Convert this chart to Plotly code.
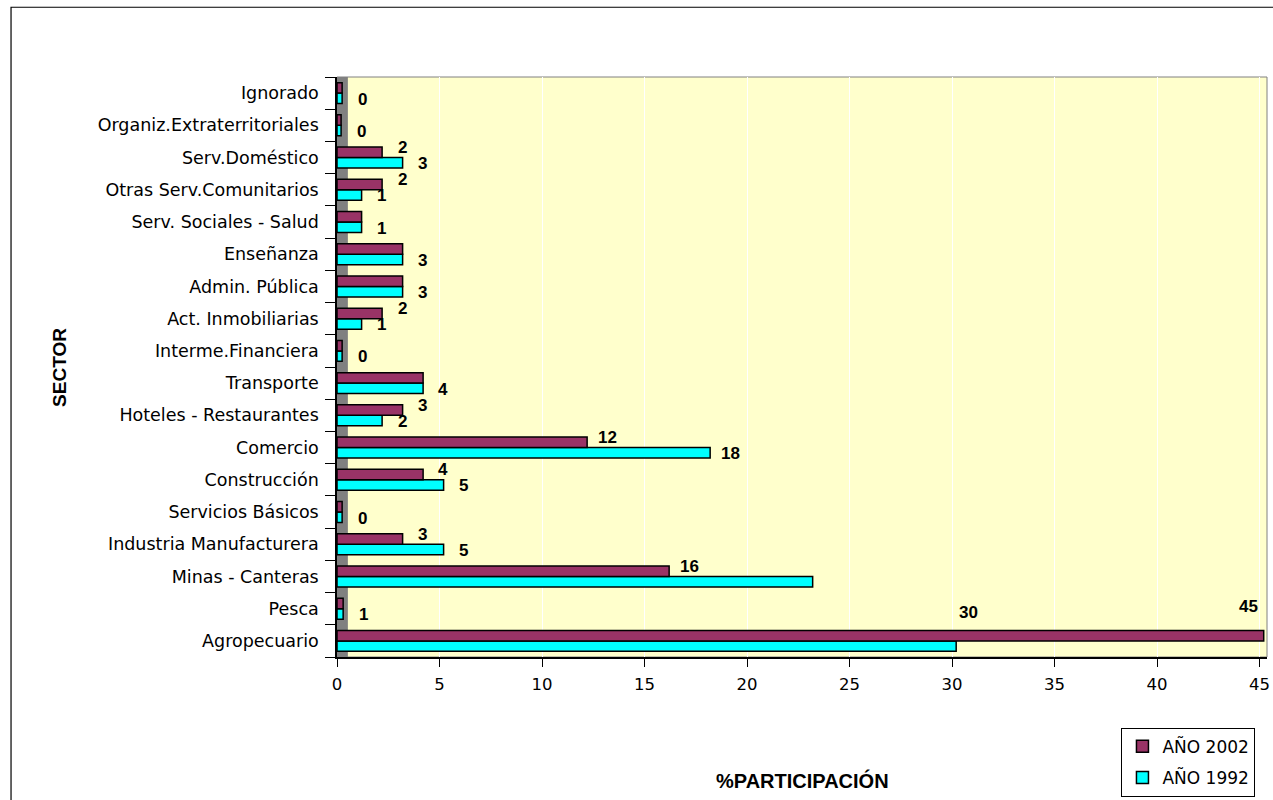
import plotly.graph_objects as go

# Categories from bottom to top
sectors = ["Agropecuario", "Pesca", "Minas - Canteras", "Industria Manufacturera",
           "Servicios Básicos", "Construcción", "Comercio", "Hoteles - Restaurantes",
           "Transporte", "Interme.Financiera", "Act. Inmobiliarias", "Admin. Pública",
           "Enseñanza", "Serv. Sociales - Salud", "Otras Serv.Comunitarios",
           "Serv.Doméstico", "Organiz.Extraterritoriales", "Ignorado"]

anio_2002 = [45.2, 0.3, 16.2, 3.2, 0.25, 4.2, 12.2, 3.2, 4.2, 0.25, 2.2, 3.2, 3.2, 1.2, 2.2, 2.2, 0.2, 0.25]
anio_1992 = [30.2, 0.3, 23.2, 5.2, 0.25, 5.2, 18.2, 2.2, 4.2, 0.25, 1.2, 3.2, 3.2, 1.2, 1.2, 3.2, 0.2, 0.25]

labels_2002 = ["45", "", "16", "3", "", "4", "12", "3", "", "", "2", "", "", "", "2", "2", "", ""]
labels_1992 = ["30", "1", "", "5", "0", "5", "18", "2", "4", "0", "1", "3", "3", "1", "1", "3", "0", "0"]

x_ticks = [0, 5, 10, 15, 20, 25, 30, 35, 40, 45]

MAROON = "#993366"
CYAN = "#00FFFF"
BG = "#FFFFCC"

fig = go.Figure()
fig.add_trace(go.Bar(
    y=sectors, x=anio_1992, orientation="h", name="AÑO 1992",
    marker=dict(color=CYAN, line=dict(color="black", width=1.5)),
    legendrank=2, legendgroup="b", hoverinfo="x+y"))
fig.add_trace(go.Bar(
    y=sectors, x=anio_2002, orientation="h", name="AÑO 2002",
    marker=dict(color=MAROON, line=dict(color="black", width=1.5)),
    legendrank=1, legendgroup="a", hoverinfo="x+y"))

label_font = dict(family="Liberation Sans", size=17, color="black")
annotations = []
for i, (s, v, t) in enumerate(zip(sectors, anio_2002, labels_2002)):
    if not t:
        continue
    xs, ys = 20, 10
    if i == 0:
        xs, ys = -15, 34
    annotations.append(dict(x=v, y=s, text="<b>%s</b>" % t, showarrow=False,
                            xanchor="center", yanchor="middle", xshift=xs, yshift=ys,
                            font=label_font))
for i, (s, v, t) in enumerate(zip(sectors, anio_1992, labels_1992)):
    if not t:
        continue
    xs, ys = 20, -6
    if i == 0:
        xs, ys = 12, 28
    annotations.append(dict(x=v, y=s, text="<b>%s</b>" % t, showarrow=False,
                            xanchor="center", yanchor="middle", xshift=xs, yshift=ys,
                            font=label_font))

annotations.append(dict(xref="paper", yref="paper", x=0.5, y=-0.213,
                        text="<b>%PARTICIPACIÓN</b>", showarrow=False,
                        xanchor="center", yanchor="middle",
                        font=dict(family="Liberation Sans", size=20, color="black")))
annotations.append(dict(xref="paper", yref="paper", x=-0.299, y=0.5,
                        text="<b>SECTOR</b>", showarrow=False, textangle=-90,
                        xanchor="center", yanchor="middle",
                        font=dict(family="Liberation Sans", size=19, color="black")))

shapes = [
    # gray side wall
    dict(type="rect", xref="x", yref="paper", x0=0, x1=0.53, y0=0, y1=1,
         fillcolor="#808080", line=dict(width=0), layer="below"),
    # plot area outline
    dict(type="rect", xref="paper", yref="paper", x0=0, x1=1, y0=0, y1=1,
         fillcolor="rgba(0,0,0,0)", line=dict(color="#808080", width=1), layer="below"),
    # outer chart frame
    dict(type="rect", xref="paper", yref="paper", x0=-0.3505, x1=1.2, y0=-0.4, y1=1.1203,
         fillcolor="rgba(0,0,0,0)", line=dict(color="black", width=1.2), layer="above"),
]

fig.update_layout(
    width=1273, height=800,
    margin=dict(l=337, r=3, t=77, b=141),
    paper_bgcolor="white", plot_bgcolor=BG,
    barmode="group", bargap=0.35, bargroupgap=0,
    showlegend=True,
    legend=dict(x=0.8435, y=-0.122, xanchor="left", yanchor="top",
                bgcolor="white", bordercolor="black", borderwidth=1,
                font=dict(family="DejaVu Sans", size=17, color="black"),
                tracegroupgap=6, itemwidth=30),
    annotations=annotations, shapes=shapes,
    xaxis=dict(range=[0, 45.36], tickvals=x_ticks, ticktext=[str(v) for v in x_ticks],
               showgrid=True, gridcolor="white", gridwidth=1, zeroline=False,
               showline=True, linecolor="black", linewidth=1.5,
               ticks="outside", ticklen=8, tickcolor="black",
               ticklabelstandoff=3, ticklabeloverflow="allow",
               tickfont=dict(family="DejaVu Sans", size=16.5, color="black")),
    yaxis=dict(categoryorder="array", categoryarray=sectors,
               range=[-0.5, len(sectors) - 0.5],
               showgrid=False, zeroline=False,
               showline=True, linecolor="black", linewidth=1.5,
               ticks="outside", ticklen=10, tickcolor="black", tickson="boundaries",
               ticklabelstandoff=13,
               tickfont=dict(family="DejaVu Sans", size=17.5, color="black")),
    font=dict(family="DejaVu Sans", color="black"),
)

fig.write_html("out.html", config={"displayModeBar": False},
               post_script="document.body.style.margin='0';document.body.style.overflow='hidden';")
